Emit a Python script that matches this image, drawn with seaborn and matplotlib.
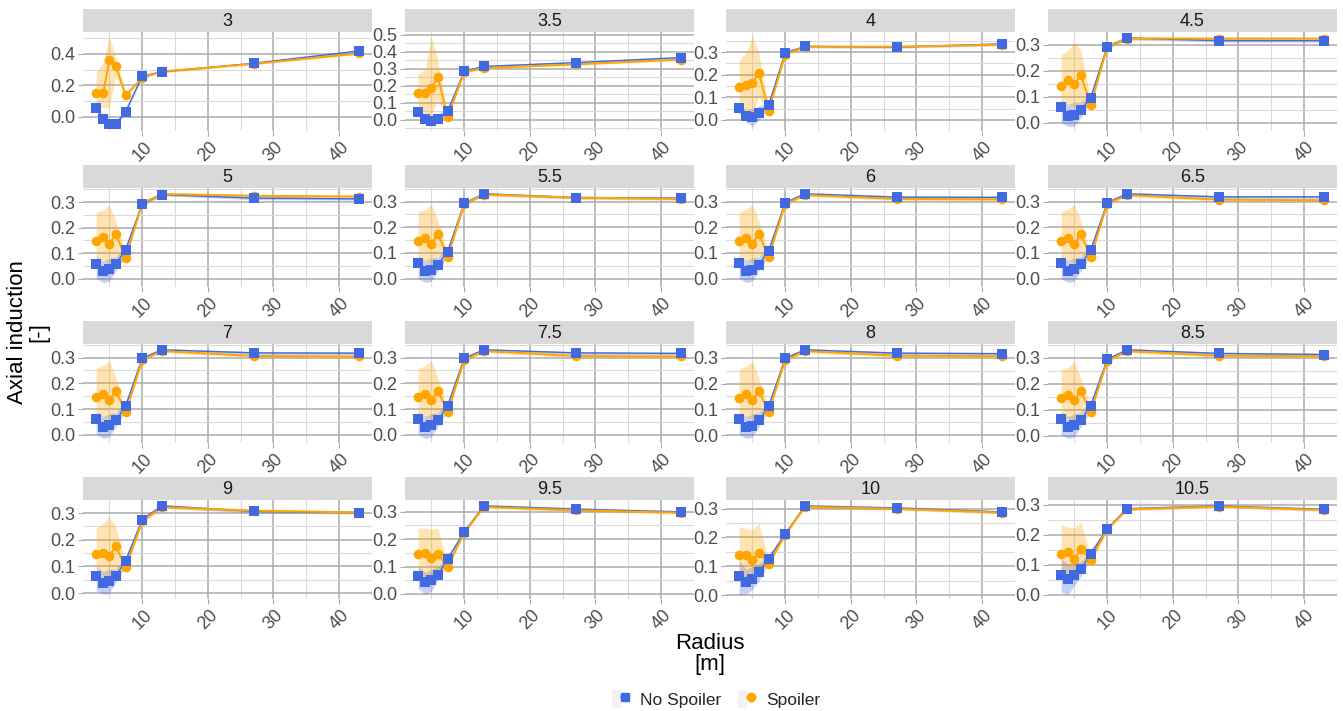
import matplotlib
matplotlib.use("Agg")
import matplotlib.pyplot as plt
import seaborn as sns
import numpy as np
import pandas as pd
from matplotlib.ticker import MultipleLocator
from matplotlib.lines import Line2D
from matplotlib.patches import Rectangle
from matplotlib.legend_handler import HandlerTuple

# ---------------- data ----------------
RADIUS = [3.0, 4.1, 5.0, 6.0, 7.5, 10.0, 13.0, 27.0, 43.0]
WIND_SPEEDS = ["3", "3.5", "4", "4.5", "5", "5.5", "6", "6.5",
               "7", "7.5", "8", "8.5", "9", "9.5", "10", "10.5"]
SERIES = ["No Spoiler", "Spoiler"]

NS_MEAN = {
    "3":    [0.055, -0.015, -0.046, -0.046, 0.033, 0.257, 0.286, 0.340, 0.418],
    "3.5":  [0.044, 0.006, -0.010, 0.006, 0.050, 0.284, 0.314, 0.336, 0.366],
    "4":    [0.051, 0.015, 0.012, 0.028, 0.066, 0.297, 0.326, 0.323, 0.337],
    "4.5":  [0.059, 0.026, 0.030, 0.050, 0.096, 0.293, 0.326, 0.316, 0.316],
    "5":    [0.059, 0.030, 0.037, 0.057, 0.114, 0.293, 0.330, 0.316, 0.313],
    "5.5":  [0.060, 0.030, 0.035, 0.055, 0.105, 0.293, 0.330, 0.315, 0.313],
    "6":    [0.060, 0.030, 0.035, 0.055, 0.108, 0.295, 0.330, 0.317, 0.316],
    "6.5":  [0.060, 0.030, 0.036, 0.056, 0.110, 0.295, 0.330, 0.318, 0.318],
    "7":    [0.062, 0.030, 0.037, 0.057, 0.112, 0.297, 0.330, 0.318, 0.317],
    "7.5":  [0.062, 0.031, 0.037, 0.057, 0.112, 0.297, 0.330, 0.318, 0.316],
    "8":    [0.062, 0.032, 0.038, 0.058, 0.112, 0.297, 0.330, 0.317, 0.315],
    "8.5":  [0.063, 0.033, 0.040, 0.060, 0.115, 0.293, 0.330, 0.316, 0.312],
    "9":    [0.065, 0.037, 0.047, 0.065, 0.121, 0.275, 0.327, 0.306, 0.302],
    "9.5":  [0.065, 0.043, 0.052, 0.068, 0.128, 0.226, 0.321, 0.309, 0.299],
    "10":   [0.066, 0.047, 0.058, 0.080, 0.127, 0.212, 0.309, 0.302, 0.288],
    "10.5": [0.065, 0.051, 0.065, 0.086, 0.134, 0.219, 0.286, 0.295, 0.284],
}
NS_LO = {
    "3":    [0.030, -0.040, -0.062, -0.062, 0.020, 0.250, 0.280, 0.335, 0.410],
    "3.5":  [0.020, -0.020, -0.040, -0.020, 0.030, 0.275, 0.305, 0.330, 0.360],
    "4":    [0.030, -0.010, -0.030, 0.000, 0.050, 0.290, 0.320, 0.318, 0.330],
    "4.5":  [0.000, -0.015, -0.015, 0.020, 0.080, 0.285, 0.320, 0.310, 0.310],
    "5":    [0.000, -0.015, -0.010, 0.030, 0.090, 0.285, 0.325, 0.310, 0.308],
    "5.5":  [0.000, -0.015, -0.010, 0.030, 0.085, 0.285, 0.325, 0.310, 0.308],
    "6":    [0.000, -0.015, -0.010, 0.030, 0.088, 0.287, 0.325, 0.311, 0.310],
    "6.5":  [0.000, -0.015, -0.010, 0.030, 0.090, 0.287, 0.325, 0.312, 0.312],
    "7":    [0.002, -0.014, -0.008, 0.032, 0.092, 0.289, 0.325, 0.312, 0.311],
    "7.5":  [0.002, -0.014, -0.008, 0.032, 0.092, 0.289, 0.325, 0.312, 0.310],
    "8":    [0.002, -0.012, -0.006, 0.033, 0.093, 0.289, 0.325, 0.311, 0.309],
    "8.5":  [0.004, -0.010, -0.004, 0.035, 0.095, 0.285, 0.325, 0.310, 0.306],
    "9":    [0.010, -0.005, 0.000, 0.040, 0.100, 0.265, 0.320, 0.300, 0.297],
    "9.5":  [0.020, -0.002, 0.010, 0.050, 0.110, 0.220, 0.316, 0.303, 0.294],
    "10":   [0.003, 0.005, 0.020, 0.050, 0.110, 0.207, 0.304, 0.297, 0.283],
    "10.5": [0.008, 0.000, 0.030, 0.060, 0.120, 0.214, 0.281, 0.290, 0.279],
}
NS_HI = {
    "3":    [0.070, 0.010, -0.030, -0.030, 0.045, 0.265, 0.292, 0.345, 0.425],
    "3.5":  [0.060, 0.030, 0.020, 0.030, 0.070, 0.290, 0.320, 0.342, 0.372],
    "4":    [0.070, 0.040, 0.050, 0.060, 0.080, 0.302, 0.332, 0.328, 0.342],
    "4.5":  [0.090, 0.070, 0.080, 0.080, 0.110, 0.300, 0.332, 0.322, 0.322],
    "5":    [0.090, 0.070, 0.080, 0.085, 0.130, 0.300, 0.335, 0.322, 0.318],
    "5.5":  [0.090, 0.070, 0.080, 0.085, 0.125, 0.300, 0.335, 0.321, 0.318],
    "6":    [0.090, 0.070, 0.080, 0.085, 0.128, 0.302, 0.335, 0.322, 0.321],
    "6.5":  [0.090, 0.070, 0.081, 0.086, 0.130, 0.302, 0.335, 0.323, 0.323],
    "7":    [0.092, 0.071, 0.082, 0.087, 0.132, 0.304, 0.335, 0.323, 0.322],
    "7.5":  [0.092, 0.071, 0.082, 0.087, 0.132, 0.304, 0.335, 0.323, 0.321],
    "8":    [0.092, 0.072, 0.083, 0.088, 0.132, 0.304, 0.335, 0.322, 0.320],
    "8.5":  [0.093, 0.073, 0.085, 0.090, 0.135, 0.300, 0.335, 0.321, 0.317],
    "9":    [0.100, 0.080, 0.090, 0.090, 0.140, 0.285, 0.332, 0.312, 0.307],
    "9.5":  [0.100, 0.080, 0.090, 0.100, 0.140, 0.232, 0.326, 0.315, 0.304],
    "10":   [0.120, 0.090, 0.100, 0.110, 0.140, 0.217, 0.314, 0.307, 0.293],
    "10.5": [0.120, 0.100, 0.110, 0.110, 0.150, 0.224, 0.291, 0.300, 0.289],
}
SP_MEAN = {
    "3":    [0.154, 0.154, 0.360, 0.323, 0.136, 0.248, 0.288, 0.336, 0.402],
    "3.5":  [0.156, 0.160, 0.186, 0.254, 0.016, 0.280, 0.304, 0.326, 0.354],
    "4":    [0.145, 0.154, 0.162, 0.209, 0.040, 0.289, 0.325, 0.325, 0.334],
    "4.5":  [0.141, 0.164, 0.149, 0.184, 0.067, 0.291, 0.324, 0.324, 0.324],
    "5":    [0.146, 0.162, 0.136, 0.175, 0.082, 0.296, 0.332, 0.325, 0.322],
    "5.5":  [0.145, 0.160, 0.135, 0.175, 0.085, 0.290, 0.327, 0.315, 0.310],
    "6":    [0.145, 0.160, 0.135, 0.175, 0.085, 0.290, 0.325, 0.310, 0.308],
    "6.5":  [0.145, 0.160, 0.135, 0.173, 0.085, 0.290, 0.325, 0.307, 0.305],
    "7":    [0.145, 0.160, 0.135, 0.172, 0.087, 0.290, 0.325, 0.306, 0.304],
    "7.5":  [0.145, 0.159, 0.135, 0.172, 0.088, 0.290, 0.325, 0.306, 0.304],
    "8":    [0.146, 0.158, 0.136, 0.172, 0.090, 0.290, 0.325, 0.307, 0.305],
    "8.5":  [0.146, 0.155, 0.137, 0.172, 0.092, 0.287, 0.325, 0.307, 0.305],
    "9":    [0.146, 0.152, 0.140, 0.175, 0.097, 0.269, 0.322, 0.309, 0.302],
    "9.5":  [0.144, 0.148, 0.132, 0.144, 0.099, 0.223, 0.317, 0.305, 0.296],
    "10":   [0.139, 0.139, 0.121, 0.148, 0.109, 0.209, 0.306, 0.299, 0.286],
    "10.5": [0.135, 0.141, 0.118, 0.152, 0.116, 0.217, 0.284, 0.293, 0.282],
}
SP_LO = {
    "3":    [0.060, 0.060, 0.055, 0.260, 0.120, 0.240, 0.280, 0.330, 0.395],
    "3.5":  [0.050, 0.040, 0.020, 0.120, 0.000, 0.272, 0.298, 0.320, 0.348],
    "4":    [0.040, 0.040, 0.030, 0.100, 0.030, 0.282, 0.320, 0.320, 0.329],
    "4.5":  [0.090, 0.070, 0.060, 0.080, 0.055, 0.284, 0.318, 0.318, 0.318],
    "5":    [0.090, 0.070, 0.060, 0.090, 0.070, 0.288, 0.325, 0.318, 0.315],
    "5.5":  [0.090, 0.070, 0.060, 0.090, 0.072, 0.283, 0.321, 0.309, 0.304],
    "6":    [0.090, 0.070, 0.060, 0.090, 0.072, 0.283, 0.319, 0.304, 0.302],
    "6.5":  [0.090, 0.070, 0.060, 0.090, 0.072, 0.283, 0.319, 0.301, 0.299],
    "7":    [0.090, 0.070, 0.061, 0.090, 0.074, 0.283, 0.319, 0.300, 0.298],
    "7.5":  [0.090, 0.070, 0.061, 0.090, 0.075, 0.283, 0.319, 0.300, 0.298],
    "8":    [0.092, 0.070, 0.062, 0.090, 0.078, 0.283, 0.319, 0.301, 0.299],
    "8.5":  [0.092, 0.068, 0.063, 0.090, 0.080, 0.280, 0.319, 0.301, 0.299],
    "9":    [0.100, 0.060, 0.070, 0.090, 0.080, 0.262, 0.316, 0.303, 0.296],
    "9.5":  [0.090, 0.060, 0.070, 0.090, 0.090, 0.218, 0.312, 0.300, 0.291],
    "10":   [0.070, 0.060, 0.070, 0.090, 0.100, 0.204, 0.301, 0.294, 0.281],
    "10.5": [0.070, 0.060, 0.070, 0.090, 0.100, 0.212, 0.279, 0.288, 0.277],
}
SP_HI = {
    "3":    [0.280, 0.350, 0.510, 0.380, 0.150, 0.256, 0.296, 0.342, 0.409],
    "3.5":  [0.270, 0.300, 0.490, 0.350, 0.030, 0.288, 0.310, 0.332, 0.360],
    "4":    [0.265, 0.300, 0.370, 0.300, 0.055, 0.296, 0.330, 0.330, 0.339],
    "4.5":  [0.260, 0.280, 0.310, 0.280, 0.090, 0.298, 0.332, 0.330, 0.330],
    "5":    [0.260, 0.270, 0.290, 0.225, 0.100, 0.304, 0.338, 0.332, 0.329],
    "5.5":  [0.260, 0.270, 0.290, 0.225, 0.100, 0.297, 0.333, 0.321, 0.316],
    "6":    [0.260, 0.270, 0.290, 0.225, 0.100, 0.297, 0.331, 0.316, 0.314],
    "6.5":  [0.260, 0.270, 0.290, 0.223, 0.100, 0.297, 0.331, 0.313, 0.311],
    "7":    [0.258, 0.270, 0.288, 0.222, 0.102, 0.297, 0.331, 0.312, 0.310],
    "7.5":  [0.258, 0.268, 0.288, 0.222, 0.103, 0.297, 0.331, 0.312, 0.310],
    "8":    [0.256, 0.266, 0.287, 0.222, 0.104, 0.297, 0.331, 0.313, 0.311],
    "8.5":  [0.254, 0.263, 0.286, 0.222, 0.106, 0.294, 0.331, 0.313, 0.311],
    "9":    [0.245, 0.260, 0.285, 0.250, 0.110, 0.276, 0.328, 0.315, 0.308],
    "9.5":  [0.240, 0.240, 0.235, 0.240, 0.110, 0.228, 0.322, 0.310, 0.301],
    "10":   [0.237, 0.230, 0.226, 0.249, 0.120, 0.214, 0.311, 0.304, 0.291],
    "10.5": [0.233, 0.225, 0.222, 0.240, 0.130, 0.222, 0.289, 0.298, 0.287],
}

# ---------------- build long table ----------------
rows = []
for ws in WIND_SPEEDS:
    for s, (m, lo, hi) in zip(SERIES, [(NS_MEAN, NS_LO, NS_HI), (SP_MEAN, SP_LO, SP_HI)]):
        for r, a, l, h in zip(RADIUS, m[ws], lo[ws], hi[ws]):
            rows.append(dict(ws=ws, series=s, r=r, a=a, lo=l, hi=h))
df = pd.DataFrame(rows)

# ---------------- style ----------------
sns.set_theme(style="white")
plt.rcParams["font.family"] = ["Liberation Sans", "DejaVu Sans"]

COLORS = {"No Spoiler": "#4169E1", "Spoiler": "#FFA500"}
MARKERS = {"No Spoiler": "s", "Spoiler": "o"}
TICK_COLOR = "#4D4D4D"
MAJOR_GRID = "#ABABAB"
MINOR_GRID = "#DADADA"

W, H = 1343, 711
fig = plt.figure(figsize=(W / 100, H / 100), dpi=100)
fig.patch.set_facecolor("white")

def fig_rect(x, y, w, h):
    return [x / W, 1 - (y + h) / H, w / W, h / H]

COL_X = [83, 405, 726, 1048]
ROW_Y = [9, 165, 321, 477]
PW, STRIP_H, PH = 289, 23, 99

xr0, xr1 = min(RADIUS), max(RADIUS)
xpad = 0.05 * (xr1 - xr0)

for i, ws in enumerate(WIND_SPEEDS):
    c, rw = i % 4, i // 4
    x0, y0 = COL_X[c], ROW_Y[rw]
    # strip
    sax = fig.add_axes(fig_rect(x0, y0, PW, STRIP_H))
    sax.set_facecolor("#D9D9D9")
    sax.set_xticks([]); sax.set_yticks([])
    for sp in sax.spines.values():
        sp.set_visible(False)
    sax.text(0.5, 0.45, ws, ha="center", va="center", fontsize=13,
             color="#1A1A1A", transform=sax.transAxes)

    ax = fig.add_axes(fig_rect(x0, y0 + STRIP_H, PW, PH))
    ax.set_facecolor("white")
    d = df[df.ws == ws]
    for s in SERIES:
        ds = d[d.series == s]
        ax.fill_between(ds.r, ds.lo, ds.hi, color=COLORS[s], alpha=0.3,
                        linewidth=0, zorder=2)
    sns.lineplot(data=d, x="r", y="a", hue="series", palette=COLORS,
                 hue_order=SERIES, ax=ax, legend=False, sort=False,
                 estimator=None, zorder=3)
    for ln, s in zip(ax.lines, SERIES):
        ln.set_linewidth(1.0 if s == "No Spoiler" else 1.4)
    for s in ["Spoiler", "No Spoiler"]:
        ds = d[d.series == s]
        sns.scatterplot(data=ds, x="r", y="a", color=COLORS[s],
                        marker=MARKERS[s], s=58 if s == "No Spoiler" else 48,
                        linewidth=0, ax=ax, legend=False, zorder=4)

    ymin = min(d.lo.min(), d.a.min())
    ymax = max(d.hi.max(), d.a.max())
    ypad = 0.05 * (ymax - ymin)
    ax.set_ylim(ymin - ypad, ymax + ypad)
    ax.set_xlim(xr0 - xpad, xr1 + xpad)

    ax.xaxis.set_major_locator(MultipleLocator(10))
    ax.xaxis.set_minor_locator(MultipleLocator(5))
    if ws == "3":
        ax.yaxis.set_major_locator(MultipleLocator(0.2))
        ax.yaxis.set_minor_locator(MultipleLocator(0.1))
    else:
        ax.yaxis.set_major_locator(MultipleLocator(0.1))
        ax.yaxis.set_minor_locator(MultipleLocator(0.05))
    ax.yaxis.set_major_formatter(matplotlib.ticker.FormatStrFormatter("%.1f"))

    ax.grid(True, which="major", color=MAJOR_GRID, linewidth=1.1, zorder=0)
    ax.grid(True, which="minor", color=MINOR_GRID, linewidth=0.8, zorder=0)
    ax.set_axisbelow(True)
    for sp in ax.spines.values():
        sp.set_visible(False)
    ax.tick_params(axis="both", which="major", length=3.5, width=0.8,
                   color="#ABABAB", labelcolor=TICK_COLOR, labelsize=13, pad=2,
                   left=True, bottom=True)
    ax.tick_params(axis="both", which="minor", length=0)
    for lab in ax.get_xticklabels():
        lab.set_rotation(45)
        lab.set_ha("center")
        lab.set_va("top")
    ax.set_xlabel(""); ax.set_ylabel("")

# axis titles
fig.text(28 / W, 1 - 332 / H, "Axial induction\n[-]", rotation=90,
         ha="center", va="center", fontsize=16, color="black", linespacing=1.0)
fig.text(710 / W, 1 - 654 / H, "Radius\n[m]", ha="center", va="center",
         fontsize=16, color="black", linespacing=1.0)

# legend
handles = []
for s in SERIES:
    bg = Rectangle((0, 0), 1, 1, facecolor="#F2F2F2", edgecolor="none")
    ln = Line2D([], [], color=COLORS[s], marker=MARKERS[s], markersize=6,
                linewidth=1.2)
    handles.append((bg, ln))
fig.legend(handles, SERIES, handler_map={tuple: HandlerTuple(ndivide=None, pad=0)},
           loc="center", bbox_to_anchor=(716 / W, 1 - 699 / H), ncol=2,
           frameon=False, fontsize=12.5, handlelength=1.0, handleheight=1.2,
           handletextpad=0.6, columnspacing=1.0)

fig.savefig("out.png", dpi=100, facecolor="white")
